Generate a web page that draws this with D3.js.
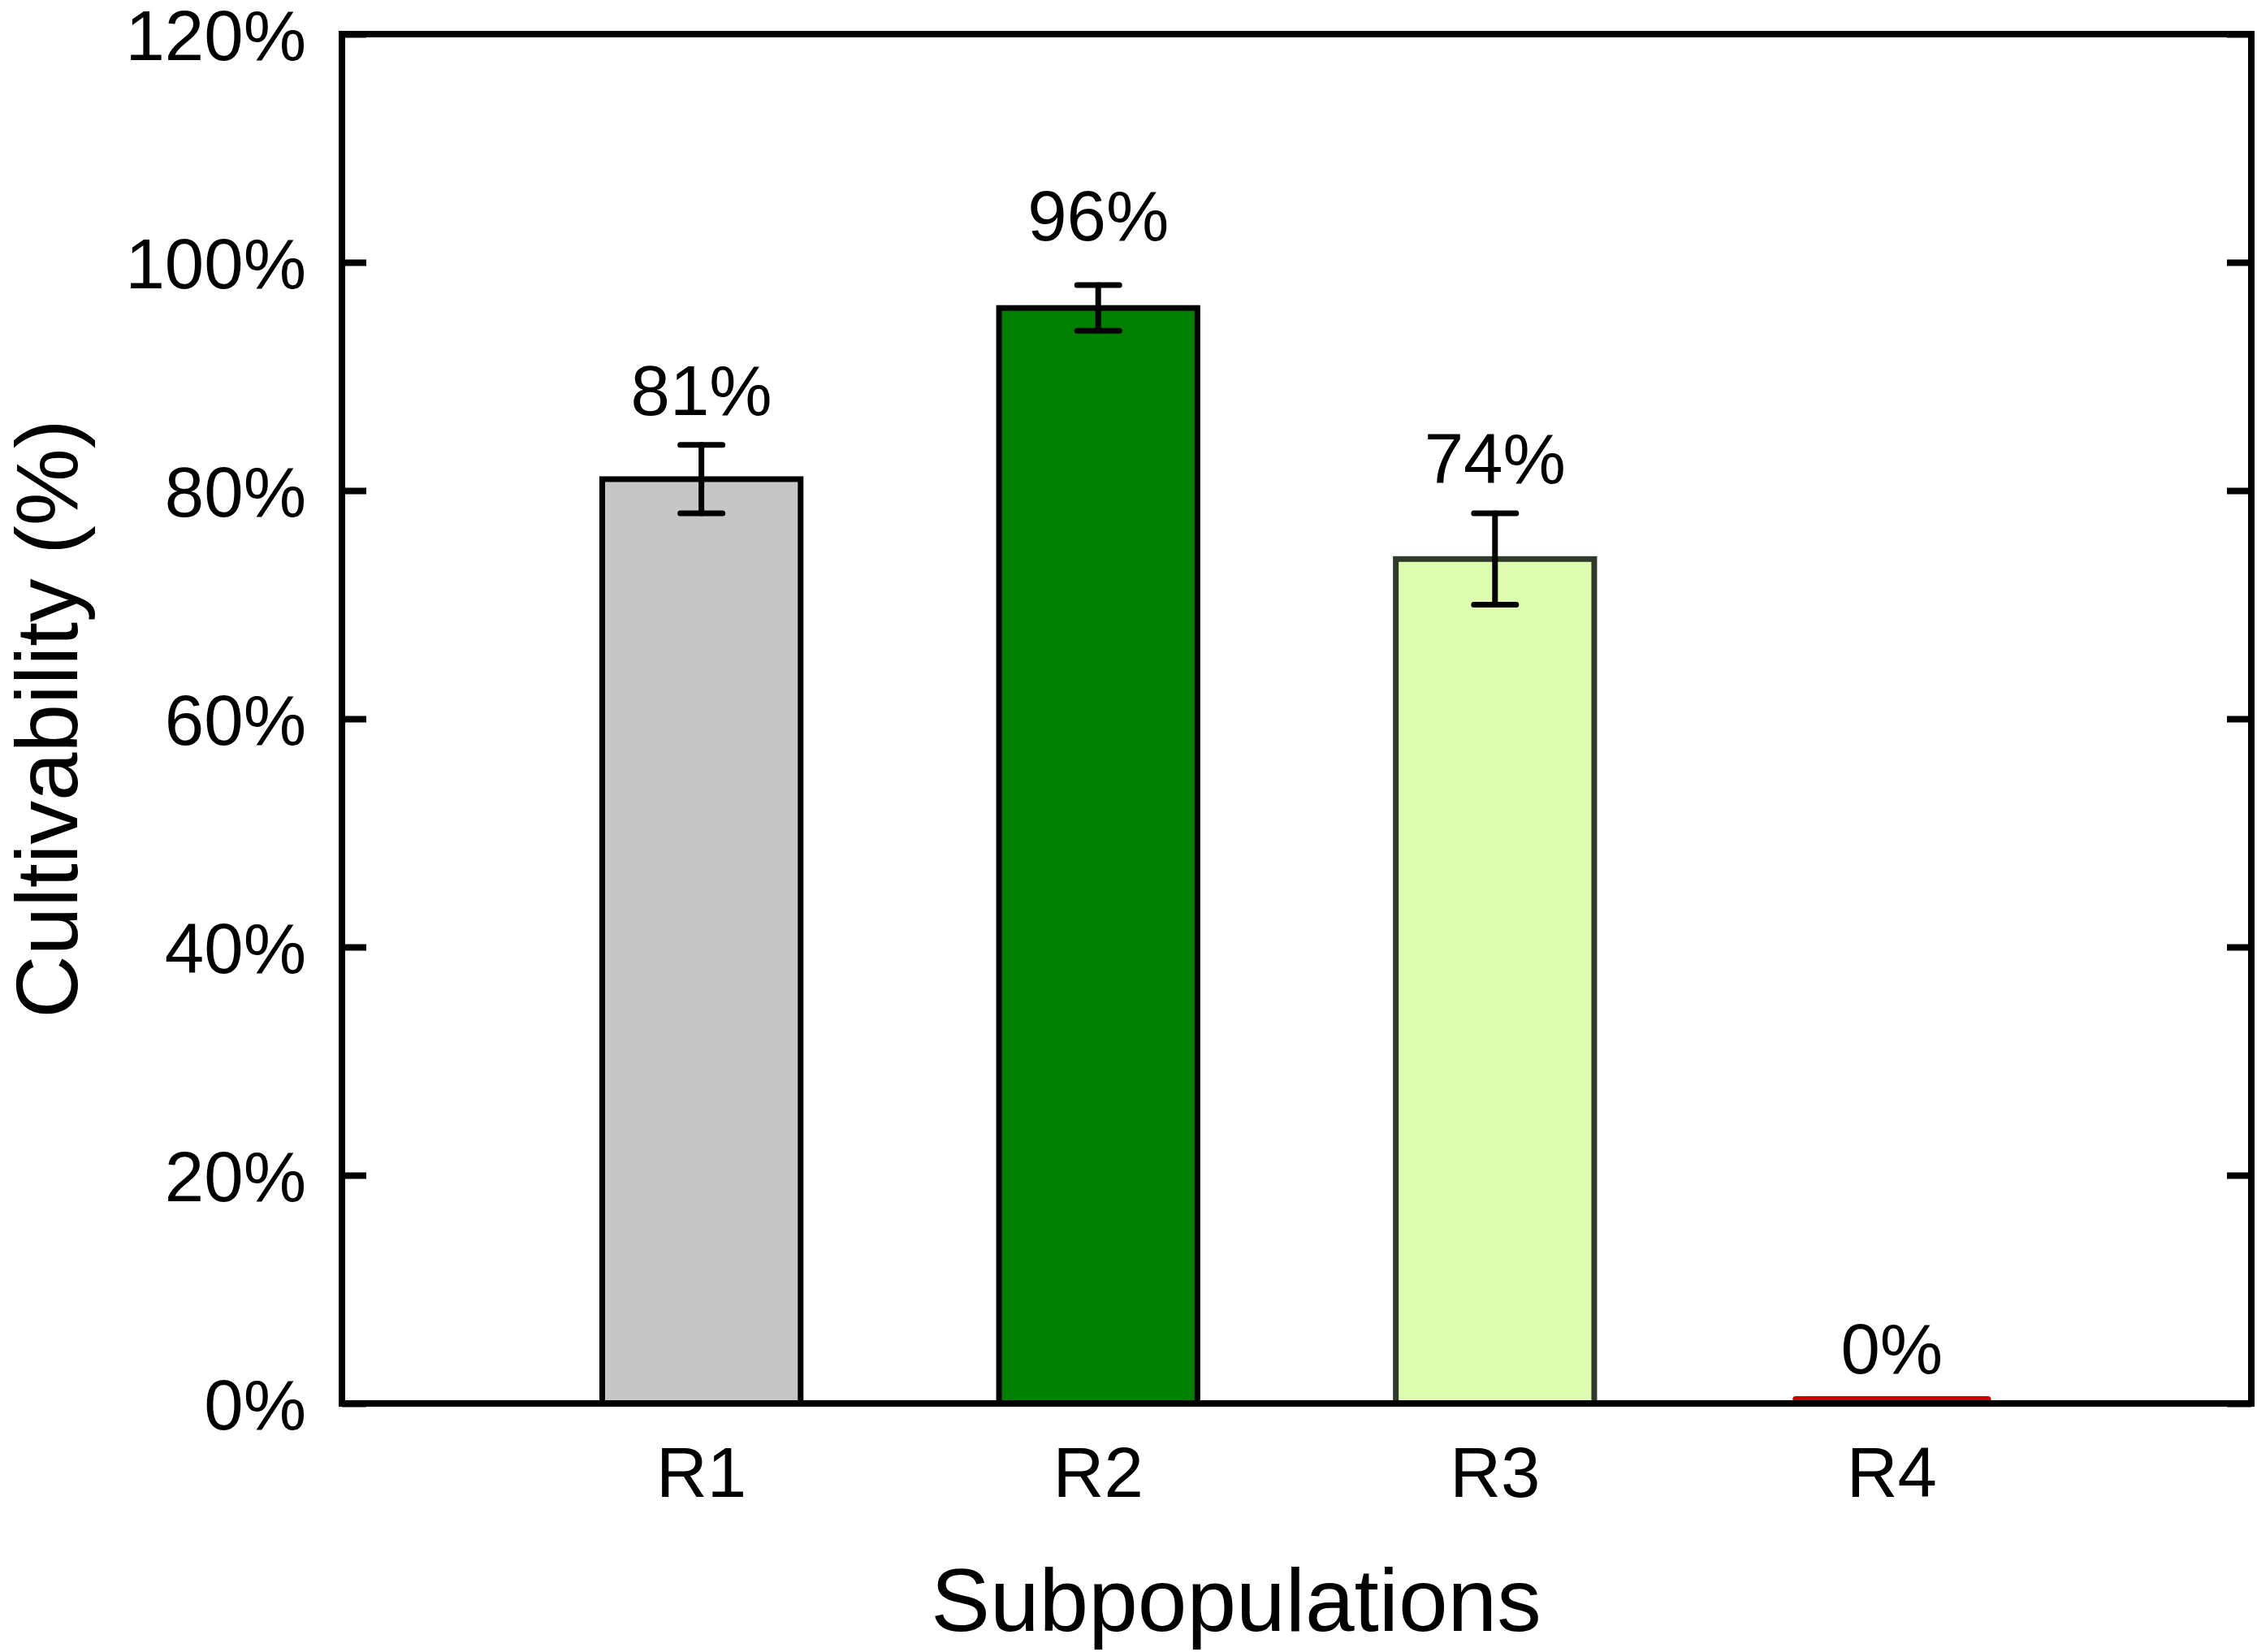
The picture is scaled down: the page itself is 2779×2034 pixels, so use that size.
<!DOCTYPE html>
<html>
<head>
<meta charset="utf-8">
<script src="https://cdn.jsdelivr.net/npm/d3@7"></script>
<style>
  body { margin: 0; background: #fff; }
  text { font-family: "Liberation Sans", Arial, sans-serif; fill: #000; }
</style>
</head>
<body>
<div id="chart"></div>
<script>
// data
const categories = ['R1', 'R2', 'R3', 'R4'];
const values = [81, 96, 74, 0];
const errors = [3, 2, 4, 0];
const fills = ['#c6c6c6', '#008000', '#ddfcaf', '#cc0000'];
const strokes = ['#000', '#000', '#2f3a2a', '#cc0000'];
const yTicks = [0, 20, 40, 60, 80, 100, 120];

const W = 2779, H = 2034;
const margin = { top: 42, right: 7, bottom: 306, left: 421 };
const x0 = margin.left, x1 = W - margin.right;
const y0 = H - margin.bottom, y1 = margin.top;

const svg = d3.select('#chart').append('svg')
    .attr('width', W)
    .attr('height', H);

const x = d3.scalePoint().domain(categories).range([x0, x1]).padding(0.906);
const y = d3.scaleLinear().domain([0, 120]).range([y0, y1]);
const barW = x.step() * 0.5;

const rows = categories.map((c, i) => ({ c, v: values[i], e: errors[i], fill: fills[i], stroke: strokes[i] }));

// bars
svg.selectAll('.bar')
    .data(rows.filter(d => d.v > 0))
    .enter().append('rect')
    .attr('class', 'bar')
    .attr('x', d => x(d.c) - barW / 2)
    .attr('y', d => y(d.v))
    .attr('width', barW)
    .attr('height', d => y(0) - y(d.v))
    .attr('fill', d => d.fill)
    .attr('stroke', d => d.stroke)
    .attr('stroke-width', 7);

// zero-height bar shows as a thin red strip on the axis
svg.selectAll('.zero')
    .data(rows.filter(d => d.v === 0))
    .enter().append('rect')
    .attr('class', 'zero')
    .attr('x', d => x(d.c) - barW / 2)
    .attr('y', y(0) - 9)
    .attr('width', barW)
    .attr('height', 9)
    .attr('rx', 4)
    .attr('fill', d => d.fill);

// error bars
const err = svg.selectAll('.err')
    .data(rows.filter(d => d.e > 0))
    .enter().append('g')
    .attr('class', 'err')
    .attr('stroke', '#000')
    .attr('stroke-width', 7)
    .attr('stroke-linecap', 'round');

err.append('line')
    .attr('x1', d => x(d.c)).attr('x2', d => x(d.c))
    .attr('y1', d => y(d.v + d.e)).attr('y2', d => y(d.v - d.e));
err.append('line')
    .attr('x1', d => x(d.c) - 26).attr('x2', d => x(d.c) + 26)
    .attr('y1', d => y(d.v + d.e)).attr('y2', d => y(d.v + d.e));
err.append('line')
    .attr('x1', d => x(d.c) - 26).attr('x2', d => x(d.c) + 26)
    .attr('y1', d => y(d.v - d.e)).attr('y2', d => y(d.v - d.e));

// value labels
svg.selectAll('.val')
    .data(rows)
    .enter().append('text')
    .attr('class', 'val')
    .attr('x', d => x(d.c))
    .attr('y', d => y(d.v + d.e) - (d.c === 'R2' ? 55 : 37))
    .attr('text-anchor', 'middle')
    .style('font-size', '87px')
    .text(d => d.v + '%');

// y axis, ticks inside
const yAxis = svg.append('g')
    .attr('transform', 'translate(' + x0 + ',0)')
    .call(d3.axisLeft(y).tickValues(yTicks).tickSize(-30).tickPadding(44).tickFormat(d => d + '%'));
yAxis.select('.domain').remove();
yAxis.selectAll('line').attr('stroke', '#000').attr('stroke-width', 8);
yAxis.selectAll('text').style('font-size', '87px').attr('dy', '0.36em');

const yAxisR = svg.append('g')
    .attr('transform', 'translate(' + x1 + ',0)')
    .call(d3.axisRight(y).tickValues(yTicks).tickSize(-30).tickFormat(''));
yAxisR.select('.domain').remove();
yAxisR.selectAll('line').attr('stroke', '#000').attr('stroke-width', 8);

// x labels
svg.selectAll('.xlab')
    .data(categories)
    .enter().append('text')
    .attr('class', 'xlab')
    .attr('x', d => x(d))
    .attr('y', y0 + 115)
    .attr('text-anchor', 'middle')
    .style('font-size', '87px')
    .text(d => d);

// frame
svg.append('rect')
    .attr('x', x0).attr('y', y1)
    .attr('width', x1 - x0).attr('height', y0 - y1)
    .attr('fill', 'none')
    .attr('stroke', '#000')
    .attr('stroke-width', 8);

// axis titles
svg.append('text')
    .attr('x', 1522)
    .attr('y', 2008)
    .attr('text-anchor', 'middle')
    .style('font-size', '109px')
    .text('Subpopulations');

svg.append('text')
    .attr('transform', 'translate(95,' + ((y0 + y1) / 2) + ') rotate(-90)')
    .attr('text-anchor', 'middle')
    .style('font-size', '107px')
    .text('Cultivability (%)');
</script>
</body>
</html>
